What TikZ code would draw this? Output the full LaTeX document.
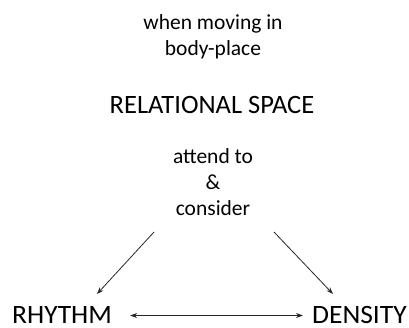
\documentclass[tikz,border=0pt]{standalone}
\usepackage{fontspec}
\setmainfont{Carlito}
\usetikzlibrary{arrows.meta}
\tikzset{
  small/.style={font=\fontsize{21.5}{26}\selectfont, align=center, inner sep=0pt},
  big/.style={font=\fontsize{26.5}{30}\selectfont, inner sep=0pt},
  link/.style={-{Stealth[length=7pt,width=5pt]}, line width=0.8pt, black!85}
}
\begin{document}
\begin{tikzpicture}[x=1pt,y=-1pt]
\useasboundingbox (0,0) rectangle (409,327);
\node[small, anchor=base] (when) at (213,55) {when moving in\\body-place};
\node[big, anchor=base] (space) at (212,113) {RELATIONAL SPACE};
\node[small, anchor=base] (attend) at (213,215) {attend to\\\&\\consider};
\node[big, anchor=base west, xscale=1.04] (rhythm) at (12,323) {RHYTHM};
\node[big, anchor=base east, xscale=1.04] (density) at (407,323) {DENSITY};
\coordinate (lstart) at (154,232);
\coordinate (lend) at (97,294);
\coordinate (rstart) at (274,232);
\coordinate (rend) at (333,294);
\draw[link] (lstart) -- (lend);
\draw[link] (rstart) -- (rend);
\draw[link, {Stealth[length=7pt,width=5pt]}-{Stealth[length=7pt,width=5pt]}] ([xshift=18pt,yshift=-1pt]rhythm.east) -- ([xshift=-9pt,yshift=-1pt]density.west);
\end{tikzpicture}
\end{document}
